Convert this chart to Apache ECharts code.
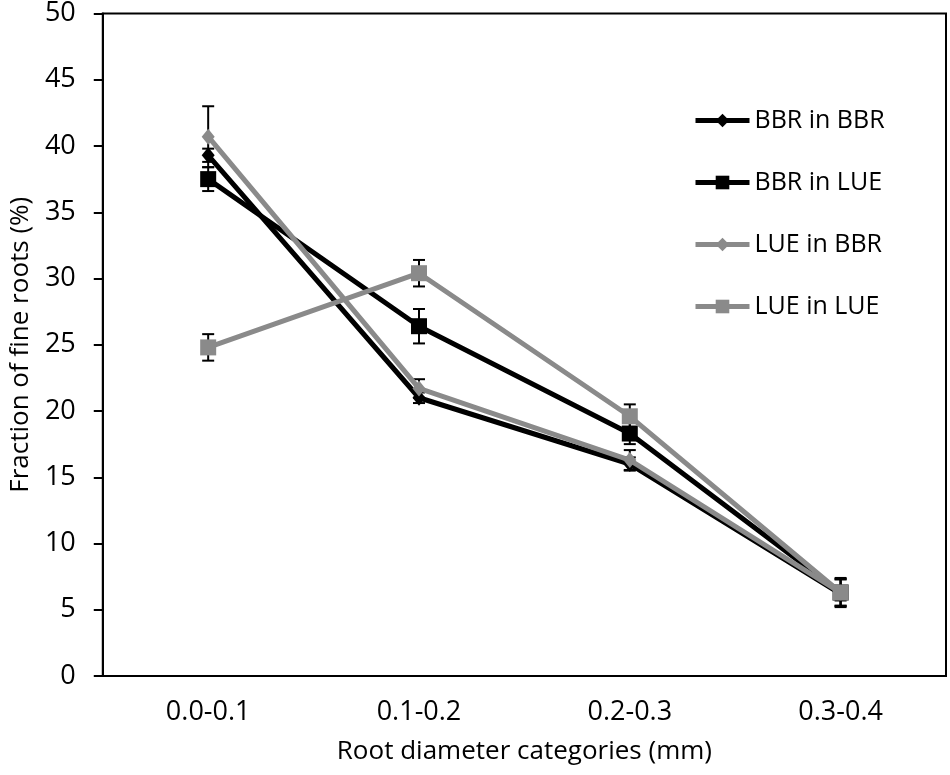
<!DOCTYPE html>
<html>
<head>
<meta charset="utf-8">
<script src="https://cdn.jsdelivr.net/npm/echarts@6/dist/echarts.min.js"></script>
<style>
  html, body { margin: 0; padding: 0; background: #fff; }
  #main { width: 950px; height: 775px; }
</style>
</head>
<body>
<div id="main"></div>
<script>
// 数据
var categories = ['0.0-0.1', '0.1-0.2', '0.2-0.3', '0.3-0.4'];
var seriesNames = ['BBR in BBR', 'BBR in LUE', 'LUE in BBR', 'LUE in LUE'];
var bbrInBbr = [39.3, 21.0, 16.0, 6.2];
var bbrInLue = [37.5, 26.4, 18.3, 6.3];
var lueInBbr = [40.7, 21.7, 16.3, 6.3];
var lueInLue = [24.8, 30.4, 19.6, 6.3];
var bbrInBbrErr = [0.5, 0.4, 0.5, 0.5];
var bbrInLueErr = [0.9, 1.3, 0.8, 1.0];
var lueInBbrErr = [2.3, 0.7, 0.75, 1.0];
var lueInLueErr = [1.0, 1.0, 0.9, 1.1];
var yTicks = [0, 5, 10, 15, 20, 25, 30, 35, 40, 45, 50];

var values = [bbrInBbr, bbrInLue, lueInBbr, lueInLue];
var errors = [bbrInBbrErr, bbrInLueErr, lueInBbrErr, lueInLueErr];
var colors = ['#000000', '#000000', '#8a8a8a', '#8a8a8a'];
var symbols = ['diamond', 'rect', 'diamond', 'rect'];
var symbolSizes = [[13, 16], 16, [13, 16], 16];

var font = '"Open Sans", "Noto Sans", sans-serif';

var series = [];
// 误差线
values.forEach(function(vals, s) {
  var errData = vals.map(function(v, i) {
    return [i, v - errors[s][i], v + errors[s][i]];
  });
  series.push({
    type: 'custom',
    name: seriesNames[s] + ' err',
    z: 1,
    silent: true,
    data: errData,
    renderItem: function(params, api) {
      var lo = api.coord([api.value(0), api.value(1)]);
      var hi = api.coord([api.value(0), api.value(2)]);
      var hw = 6;
      var style = { stroke: '#000', lineWidth: 2 };
      return {
        type: 'group',
        children: [
          { type: 'line', shape: { x1: lo[0], y1: lo[1], x2: hi[0], y2: hi[1] }, style: style },
          { type: 'line', shape: { x1: hi[0] - hw, y1: hi[1], x2: hi[0] + hw, y2: hi[1] }, style: style },
          { type: 'line', shape: { x1: lo[0] - hw, y1: lo[1], x2: lo[0] + hw, y2: lo[1] }, style: style }
        ]
      };
    }
  });
});
// 折线
values.forEach(function(vals, s) {
  series.push({
    type: 'line',
    name: seriesNames[s],
    z: 2 + s,
    data: vals,
    symbol: symbols[s],
    symbolSize: symbolSizes[s],
    showAllSymbol: true,
    lineStyle: { color: colors[s], width: 5 },
    itemStyle: { color: colors[s] }
  });
});

var legendData = seriesNames.map(function(n, s) {
  return { name: n, lineStyle: { color: colors[s], width: 5 }, itemStyle: { color: colors[s] } };
});

var option = {
  animation: false,
  backgroundColor: '#fff',
  textStyle: { fontFamily: font },
  grid: { left: 97, right: 4, top: 12, bottom: 99, show: true, borderColor: '#000', borderWidth: 2 },
  legend: {
    data: legendData,
    orient: 'vertical',
    left: 693,
    top: 108,
    padding: 0,
    itemWidth: 54,
    itemHeight: 17,
    itemGap: 37,
    lineStyle: { width: 5 },
    textStyle: { fontFamily: font, fontSize: 25, color: '#000' }
  },
  xAxis: {
    type: 'category',
    data: categories,
    boundaryGap: true,
    name: 'Root diameter categories (mm)',
    nameLocation: 'middle',
    nameGap: 63,
    nameTextStyle: { fontFamily: font, fontSize: 26, color: '#000' },
    axisLine: { lineStyle: { color: '#000', width: 2 } },
    axisTick: { alignWithLabel: true, length: 7, lineStyle: { color: '#000', width: 2 } },
    axisLabel: { fontFamily: font, fontSize: 27, color: '#000', margin: 23 },
    splitLine: { show: false }
  },
  yAxis: {
    type: 'value',
    min: 0,
    max: 50,
    interval: 5,
    name: 'Fraction of fine roots (%)',
    nameLocation: 'middle',
    nameGap: 68,
    nameTextStyle: { fontFamily: font, fontSize: 26, color: '#000' },
    axisLine: { show: true, lineStyle: { color: '#000', width: 2 } },
    axisTick: { show: true, length: 9, lineStyle: { color: '#000', width: 2 } },
    axisLabel: {
      fontFamily: font, fontSize: 27, color: '#000', margin: 27,
      formatter: function(v) { return yTicks.indexOf(v) >= 0 ? String(v) : ''; }
    },
    splitLine: { show: false }
  },
  series: series
};

var myChart = echarts.init(document.getElementById('main'));
myChart.setOption(option);
</script>
</body>
</html>
